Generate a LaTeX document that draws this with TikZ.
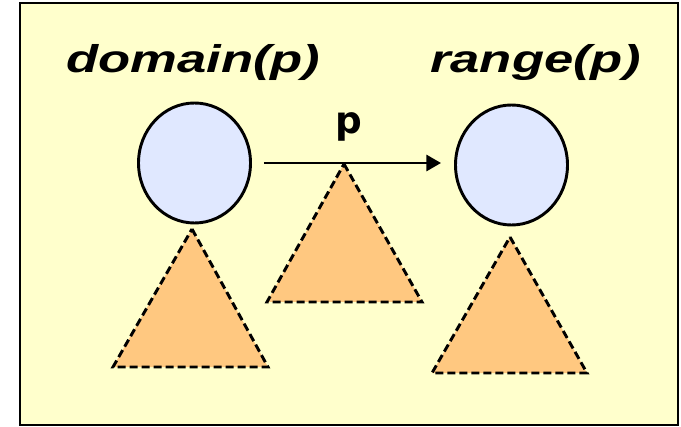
\documentclass[tikz,border=0pt]{standalone}
\usepackage{fontspec}
\setmainfont{Liberation Sans}
\newfontfamily\labelfont{DejaVu Sans}
\usetikzlibrary{shapes.geometric,arrows.meta}
\definecolor{bgyellow}{RGB}{255,255,204}
\definecolor{circfill}{RGB}{224,232,255}
\definecolor{trifill}{RGB}{255,200,128}
\newcommand{\wide}[1]{\scalebox{1.36}[1]{#1}}
\tikzset{
  frame/.style={draw=black,fill=bgyellow,line width=1.8pt},
  setnode/.style={ellipse,draw=black,fill=circfill,line width=2.2pt,inner sep=0pt,minimum width=84pt,minimum height=90pt},
  tri/.style={fill=trifill,draw=black,line width=2.2pt,dash pattern=on 6pt off 3pt},
  title/.style={font=\fontsize{29pt}{34pt}\selectfont\bfseries\itshape,inner sep=0pt},
  lbl/.style={font=\labelfont\fontsize{28pt}{34pt}\selectfont\bfseries,inner sep=0pt},
  arr/.style={-{Triangle[length=11pt,width=12pt]},line width=2.2pt}
}
\begin{document}
\begin{tikzpicture}[x=0.75pt,y=-0.75pt]
\useasboundingbox (0,0) rectangle (681,427);
\path[frame] (20,3) rectangle (678,425);
\node[title,anchor=base west] (dom) at (66,73) {\wide{domain(p)}};
\node[title,anchor=base west] (ran) at (430,73) {\wide{range(p)}};
\node[setnode] (L) at (194.5,163) {};
\node[setnode] (R) at (511.5,165) {};
\coordinate (LA) at (192,229);
\coordinate (LB1) at (113,367);
\coordinate (LB2) at (268,367);
\coordinate (MA) at (344,164);
\coordinate (MB1) at (267,302);
\coordinate (MB2) at (422,302);
\coordinate (RA) at (510,237);
\coordinate (RB1) at (432,373);
\coordinate (RB2) at (587,373);
\path[tri] (LA) -- (LB2) -- (LB1) -- cycle;
\path[tri] (MA) -- (MB2) -- (MB1) -- cycle;
\path[tri] (RA) -- (RB2) -- (RB1) -- cycle;
\draw[arr,shorten <=9pt,shorten >=9.75pt] (L.east) -- (L.east -| R.west);
\node[lbl,anchor=base] (p) at (349,134) {p};
\end{tikzpicture}
\end{document}
